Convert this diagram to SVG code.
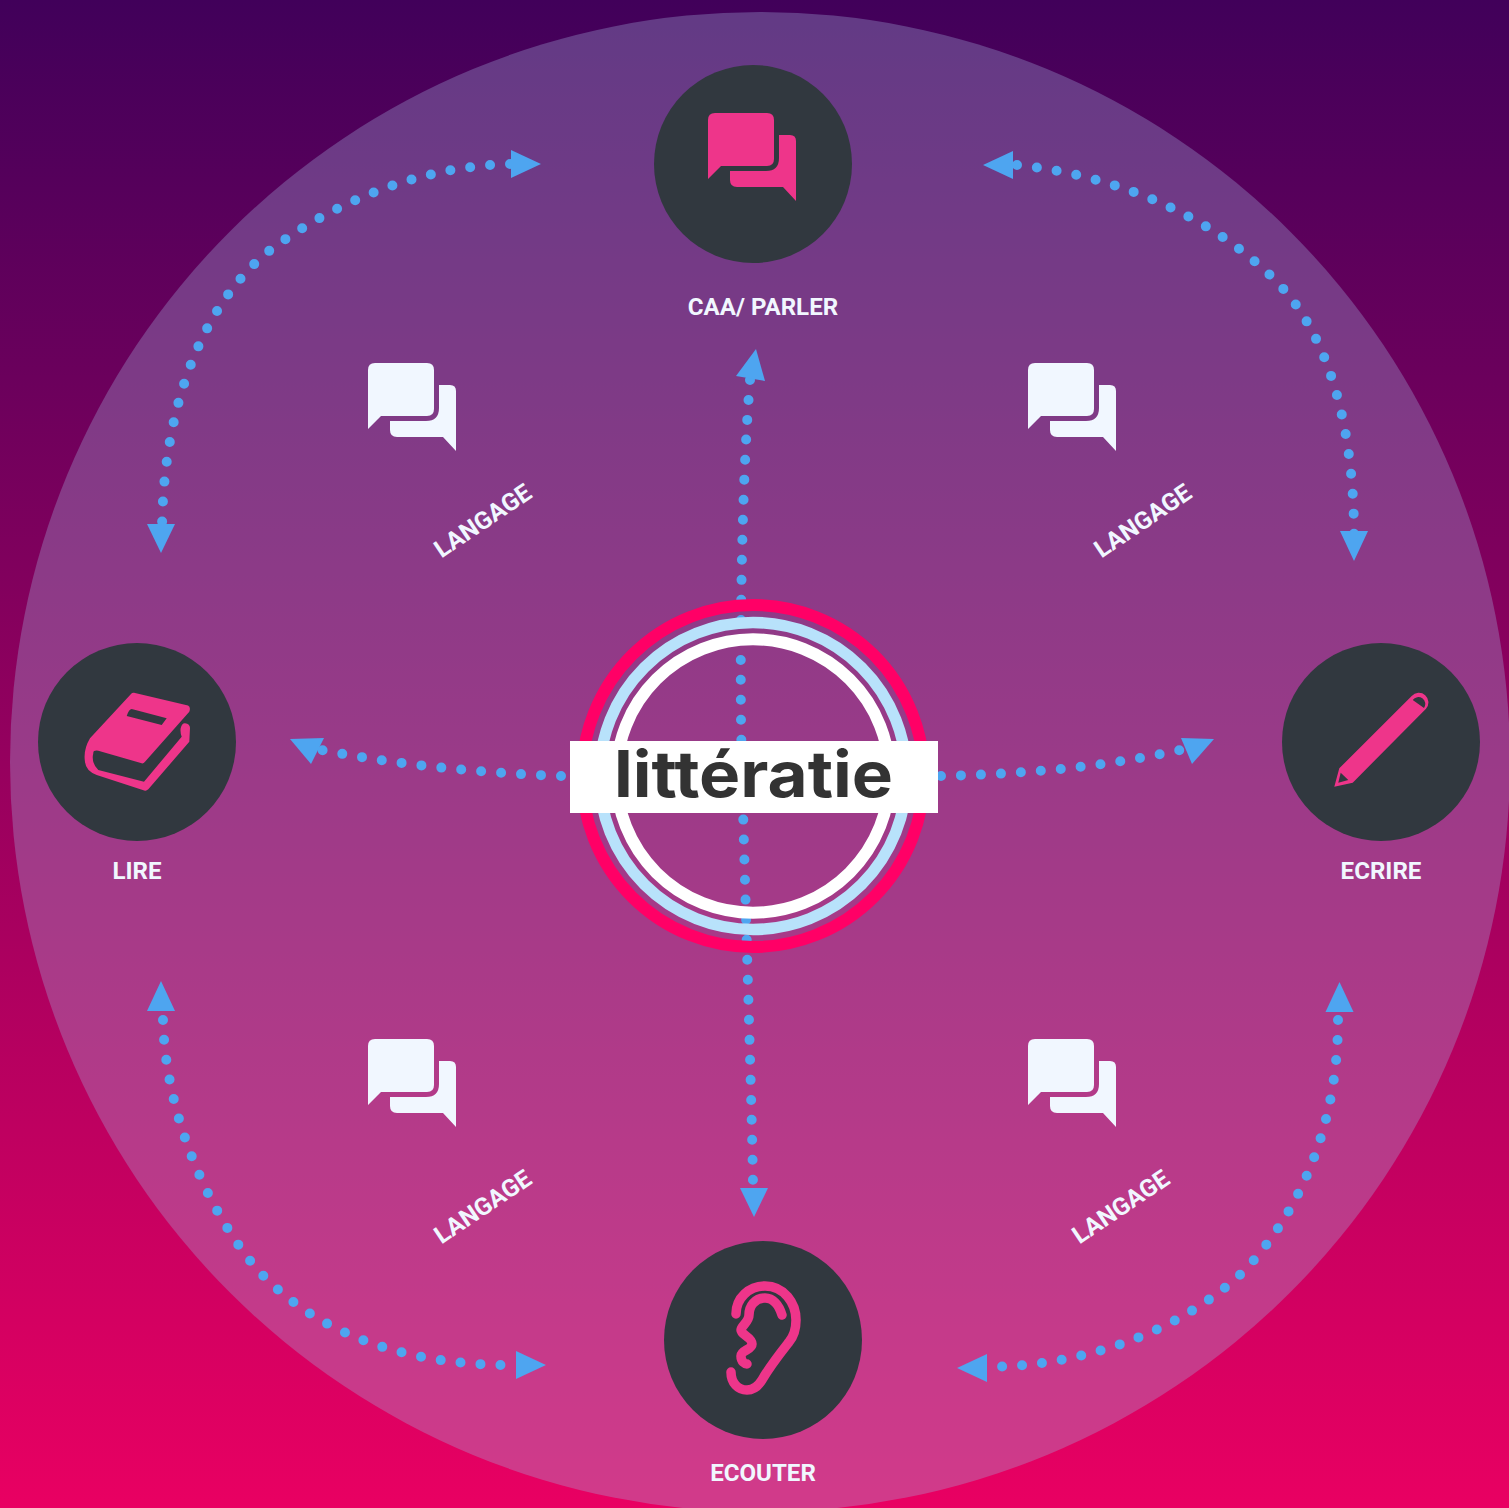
<svg xmlns="http://www.w3.org/2000/svg" width="1509" height="1508" viewBox="0 0 1509 1508">
<style>
.dot{fill:none;stroke:#4ea5f0;stroke-width:10;stroke-linecap:round;stroke-dasharray:0 20}
.head{fill:#4ea5f0}
.disc{fill:#31383f}
.ico{fill:#ee358a}
.lab{font-family:Roboto,"Liberation Sans",sans-serif;font-weight:700;font-size:24.1px;fill:#f1f7ff;text-anchor:middle}
.lang{font-size:24.5px}
.white{fill:#f1f7ff}
</style>
<defs>
<linearGradient id="bg" x1="0" y1="0" x2="0" y2="1"><stop offset="0" stop-color="#41005a"/><stop offset="1" stop-color="#e90062"/></linearGradient>
<path id="chat" d="M7,0H59Q66,0 66,7V46Q66,53 59,53H13L0,66V7Q0,0 7,0ZM71,22H82Q88,22 88,28V88L75,74H29Q22,74 22,67V58H58Q71,58 71,45Z"/>
</defs>
<rect width="1509" height="1508" fill="url(#bg)"/>
<circle cx="760" cy="762" r="750" fill="#a4b0dd" fill-opacity=".33"/>
<g id="connectors">
<path class="dot" d="M510,164C430,166 347,195 277,245C207,295 163,400 162,530"/>
<path class="dot" d="M1017,165C1115,175 1210,215 1275,280C1330,335 1354,430 1354,535"/>
<path class="dot" d="M163,1020C165,1100 197,1195 255,1267C318,1337 410,1365 510,1365"/>
<path class="dot" d="M1338,1020C1338,1110 1310,1200 1245,1270C1185,1328 1090,1366 987,1367"/>
<path class="dot" d="M750,380C742,480 740,620 741,720C742,800 752,1100 753,1185"/>
<path class="dot" d="M561,776C480,773 400,765 321,750"/>
<path class="dot" d="M941,776C1020,774 1100,768 1180,750"/>
<polygon class="head" points="541,164 511,150 511,178"/>
<polygon class="head" points="161,553 147,524 175,524"/>
<polygon class="head" points="983,165 1013,151 1013,179"/>
<polygon class="head" points="1354,561 1340,531 1368,531"/>
<polygon class="head" points="161,981 147,1011 175,1011"/>
<polygon class="head" points="546,1365 516,1351 516,1379"/>
<polygon class="head" points="1339.500,982 1325.500,1012 1353.500,1012"/>
<polygon class="head" points="957,1368 987,1354 987,1382"/>
<polygon class="head" points="756,349 736,376 765,381"/>
<polygon class="head" points="754,1217 740,1188 768,1188"/>
<polygon class="head" points="290,739 324,738 311,764"/>
<polygon class="head" points="1214,739 1181,738 1192,764"/>
</g>
<g id="center">
<circle cx="753" cy="776" r="171" fill="none" stroke="#ff0066" stroke-width="12"/>
<circle cx="753" cy="776" r="153.5" fill="none" stroke="#b8e2fb" stroke-width="11.5"/>
<circle cx="753" cy="776" r="136.7" fill="none" stroke="#fff" stroke-width="12"/>
<rect x="570" y="741" width="368" height="72" fill="#fff"/>
<text x="614" y="797" font-family="Inter,'Open Sans',sans-serif" font-weight="700" font-size="64" fill="#333" textLength="279" lengthAdjust="spacingAndGlyphs">littératie</text>
</g>
<g id="node-parler">
<circle class="disc" cx="753" cy="164" r="99"/>
<use href="#chat" class="ico" x="708" y="113"/>
<text class="lab" x="763" y="315">CAA/ PARLER</text>
</g>
<g id="node-lire">
<circle class="disc" cx="137" cy="742" r="99"/>
<path class="ico" fill-rule="evenodd" d="M134,692.7L188,705.5Q191,707 189.3,711.7L145,761.7Q143.5,763.8 141.7,763.3L98.3,750.7Q93,750 93.3,753.3Q91,763 98.3,770L144,781.7L181.7,736.7Q180,732 180.7,728Q182,723 185,723.3Q190,724 190,728L189.3,741.7L148.3,789.3Q146.5,791 145,790.7L96.7,775Q86,771 85,762Q83,750 90,738.3L131,694Q132,692.5 134,692.7ZM131.7,709Q129,709 126.7,716L161.7,725L166.7,718.3Z"/>
<text class="lab" x="137" y="879">LIRE</text>
</g>
<g id="node-ecrire">
<circle class="disc" cx="1381" cy="742" r="99"/>
<path class="ico" fill-rule="evenodd" d="M1334.3,786.7L1339.3,768.3L1411.7,696A9.5,9.5 0 0 1 1426,708.7L1352.7,782.7ZM1340.7,772.7L1338.3,782.7L1348.3,780ZM1412.7,700L1424,708A5.7,5.7 0 0 0 1412.7,700Z"/>
<text class="lab" x="1381" y="879">ECRIRE</text>
</g>
<g id="node-ecouter">
<circle class="disc" cx="763" cy="1340" r="99"/>
<g fill="none" stroke="#ee358a" stroke-width="9.5" stroke-linecap="round" stroke-linejoin="round">
<path d="M736,1314C736,1298 749,1286 765,1286C784,1286 796,1303 796,1320C796,1330 794,1336 789,1342C778,1356 770,1366 762,1380C757,1388 751,1390 747,1390C738,1390 731,1383 731,1372"/>
<path d="M782,1315C779,1305 773,1298 765,1298C755,1298 749,1306 749,1315C749,1322 741,1326 741,1330C741,1335 752,1337 752,1344C752,1350 741,1350 741,1356C741,1362 745,1364 747,1364"/>
</g>
<text class="lab" x="763" y="1481">ECOUTER</text>
</g>
<g id="node-langage-1"><use href="#chat" class="white" x="368" y="363"/><text class="lab lang" transform="translate(483,521) rotate(-34) translate(0,8)">LANGAGE</text></g>
<g id="node-langage-2"><use href="#chat" class="white" x="1028" y="363"/><text class="lab lang" transform="translate(1143,521) rotate(-34) translate(0,8)">LANGAGE</text></g>
<g id="node-langage-3"><use href="#chat" class="white" x="368" y="1039"/><text class="lab lang" transform="translate(483,1207) rotate(-34) translate(0,8)">LANGAGE</text></g>
<g id="node-langage-4"><use href="#chat" class="white" x="1028" y="1039"/><text class="lab lang" transform="translate(1121,1207) rotate(-34) translate(0,8)">LANGAGE</text></g>
</svg>
